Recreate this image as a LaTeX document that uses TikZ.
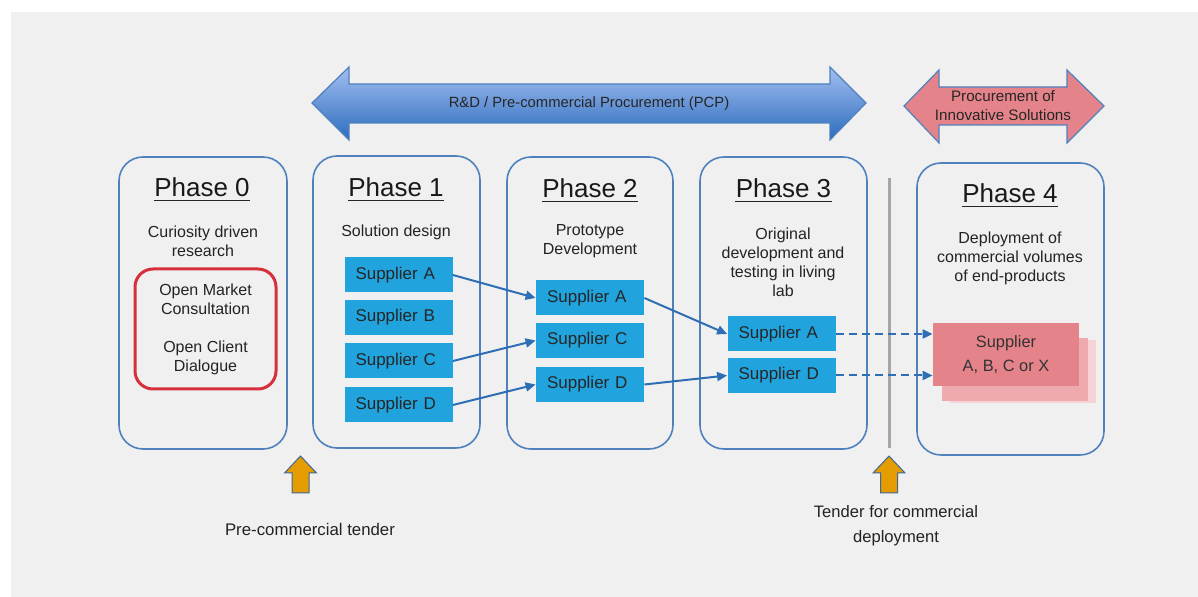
\documentclass[tikz,border=0pt]{standalone}
\usepackage{fontspec}
\setmainfont{Liberation Sans}
\usetikzlibrary{arrows.meta}
\definecolor{panel}{RGB}{240,240,240}
\definecolor{boxline}{RGB}{79,129,189}
\definecolor{supfill}{RGB}{33,163,221}
\definecolor{link}{RGB}{46,110,180}
\definecolor{pinkA}{RGB}{229,131,138}
\definecolor{pinkB}{RGB}{239,170,176}
\definecolor{pinkC}{RGB}{246,211,214}
\definecolor{redline}{RGB}{214,48,60}
\definecolor{tenderorange}{RGB}{228,156,0}
\definecolor{barlight}{RGB}{163,190,240}
\definecolor{bardark}{RGB}{44,108,190}
\definecolor{txt}{RGB}{35,35,35}

\begin{document}
\begin{tikzpicture}[x=0.5pt,y=-0.5pt,>={Triangle[length=5pt,width=4.5pt]},
phase/.style={rectangle,rounded corners=12pt,draw=boxline,line width=0.8pt,fill=panel,minimum height=146pt},
phasetitle/.style={anchor=base,inner sep=0pt,text=black!90,font=\fontsize{13}{15}\selectfont},
phasetext/.style={align=center,text=txt,inner sep=0pt,font=\fontsize{8}{9.5}\selectfont},
supplier/.style={rectangle,fill=supfill,text width=43pt,inner xsep=5.5pt,minimum height=17.5pt,align=left,text=black!85,font=\fontsize{8.5}{10}\selectfont},
redbox/.style={rectangle,rounded corners=9pt,draw=redline,line width=1.5pt,fill=panel,minimum width=70.5pt,minimum height=60pt,align=center,text=txt,font=\fontsize{8}{9.5}\selectfont},
pinkback/.style={rectangle,minimum width=73pt,minimum height=31.5pt},
pinkfront/.style={rectangle,fill=pinkA,minimum width=73pt,minimum height=31.5pt,align=center,text=black!80,font=\fontsize{8.2}{12}\selectfont},
bartext/.style={align=center,text=black!85,inner sep=0pt},
note/.style={align=center,text=txt,inner sep=0pt},
tenderarrow/.style={fill=tenderorange,draw=boxline!80!black,line width=0.5pt},
linkline/.style={draw=link,line width=1pt,->}]
\useasboundingbox (0,0) rectangle (1198,597);
\fill[white] (0,0) rectangle (1198,597);
\fill[panel] (11,12) rectangle (1198,597);

% big arrows on top
\path[draw=boxline,line width=0.6pt,top color=barlight,bottom color=bardark]
 (312,103) -- (349,67) -- (349,84) -- (830,84) -- (830,67) -- (866,103)
 -- (830,140) -- (830,123) -- (349,123) -- (349,140) -- cycle;
\node[bartext,font=\fontsize{7.4}{9}\selectfont] (pcp) at (589,104) {R\&D / Pre-commercial Procurement (PCP)};
\path[draw=boxline,line width=0.6pt,fill=pinkA]
 (904,106) -- (939,70) -- (939,87) -- (1067,87) -- (1067,70) -- (1104,106)
 -- (1067,143) -- (1067,125) -- (939,125) -- (939,143) -- cycle;
\node[bartext,font=\fontsize{7.6}{9.5}\selectfont] (pis) at (1003,106) {Procurement of\\Innovative Solutions};

% phases
\node[phase,minimum width=84pt] (ph0) at (203,303) {};
\node[phase,minimum width=83.5pt] (ph1) at (396.5,302) {};
\node[phase,minimum width=83pt] (ph2) at (590,303) {};
\node[phase,minimum width=83.5pt] (ph3) at (783.5,303) {};
\node[phase,minimum width=93.5pt] (ph4) at (1010.5,309) {};

\node[phasetitle] (t0) at (202,197) {Phase 0};
\node[phasetitle] (t1) at (396,197) {Phase 1};
\node[phasetitle] (t2) at (590,198) {Phase 2};
\node[phasetitle] (t3) at (783.5,198) {Phase 3};
\node[phasetitle] (t4) at (1010,203) {Phase 4};
\foreach \t in {t0,t1,t2,t3,t4}
 \draw[black!85,line width=0.9pt] ([yshift=-1.8pt]\t.base west) -- ([yshift=-1.8pt]\t.base east);

\node[phasetext] (d0) at (203,241) {Curiosity driven\\research};
\node[phasetext] (d1) at (396,232) {Solution design};
\node[phasetext] (d2) at (590,241) {Prototype\\Development};
\node[phasetext] (d3) at (783,262) {Original\\development and\\testing in living\\lab};
\node[phasetext] (d4) at (1010,258) {Deployment of\\commercial volumes\\of end-products};

\node[redbox] (dialog) at (205.5,329) {Open Market\\Consultation\\[9.5pt]Open Client\\Dialogue};

% suppliers
\node[supplier] (p1a) at (398.5,275) {Supplier A};
\node[supplier] (p1b) at (398.5,317.5) {Supplier B};
\node[supplier] (p1c) at (398.5,361) {Supplier C};
\node[supplier] (p1d) at (398.5,405) {Supplier D};
\node[supplier] (p2a) at (590,298) {Supplier A};
\node[supplier] (p2c) at (590,340.5) {Supplier C};
\node[supplier] (p2d) at (590,384.5) {Supplier D};
\node[supplier] (p3a) at (781.5,334) {Supplier A};
\node[supplier] (p3d) at (781.5,375.5) {Supplier D};

\node[pinkback,fill=pinkC] (stack2) at (1023,371.5) {};
\node[pinkback,fill=pinkB] (stack1) at (1014.5,370) {};
\node[pinkfront] (pick) at (1006,354.5) {Supplier\\A, B, C or X};

% divider and tenders
\coordinate (cuttop) at (889,178);
\coordinate (cutbottom) at (889,448);
\draw[black!35,line width=1.5pt] (cuttop) -- (cutbottom);

\coordinate (tender1) at (300.5,493);
\coordinate (tender2) at (889,493);
\foreach \t in {tender1,tender2}
 \draw[tenderarrow] (\t) ++(-8.5,0) -- ++(0,-20) -- ++(-7.5,0) -- ++(16,-17)
  -- ++(16,17) -- ++(-7.5,0) -- ++(0,20) -- cycle;

\node[note,font=\fontsize{8.4}{10}\selectfont] (pct) at (310,529) {Pre-commercial tender};
\node[note,font=\fontsize{8.3}{12.5}\selectfont] (tcd) at (896,525.5) {Tender for commercial\\deployment};

% supplier links
\begin{scope}[linkline]
 \draw (p1a.east) -- (p2a.west);
 \draw (p1c.east) -- (p2c.west);
 \draw (p1d.east) -- (p2d.west);
 \draw (p2a.east) -- (p3a.west);
 \draw (p2d.east) -- (p3d.west);
 \draw[dash pattern=on 4pt off 2.5pt] (p3a.east) -- (p3a.east -| pick.west);
 \draw[dash pattern=on 4pt off 2.5pt] (p3d.east) -- (p3d.east -| pick.west);
\end{scope}
\end{tikzpicture}
\end{document}
